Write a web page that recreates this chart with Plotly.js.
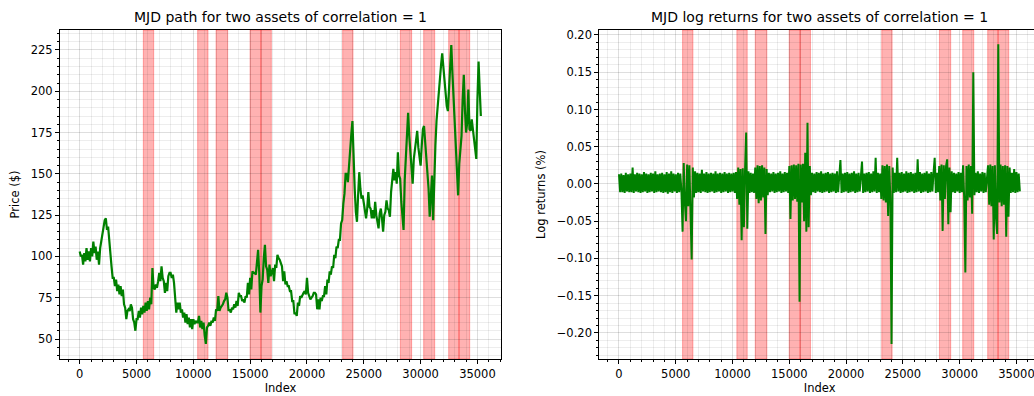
<!DOCTYPE html>
<html>
<head>
<meta charset="utf-8">
<script src="https://cdn.plot.ly/plotly-3.0.1.min.js"></script>
<style>
html,body{margin:0;padding:0;overflow:hidden;background:#fff;}
#chart{width:1050px;height:396px;}
</style>
</head>
<body>
<div id="chart"></div>
<script>
// sampling step of the index (one value read every 100 index steps)
const step = 100;

// Price path
const price = [
103,100,101,95,102,97,105,98,103,97,
105,100,109,102,106,98,103,95,105,109,
113,116,122,123,116,118,109,98,94,87,
87,82,86,79,83,77,82,76,80,71,
69,62,67,68,67,71,69,62,60,55,
62,62,67,63,69,65,70,66,72,67,
73,68,75,71,93,81,80,83,81,85,
90,85,94,87,85,78,84,79,88,90,
90,87,89,84,72,66,72,68,72,66,
68,63,66,60,65,59,63,57,62,56,
62,59,61,60,60,64,57,61,56,60,
52,47,57,58,60,58,61,60,63,61,
68,67,76,67,69,70,71,73,74,78,
75,67,68,66,69,68,71,69,73,70,
78,76,76,73,74,72,76,75,84,77,
87,80,91,90,90,89,99,104,90,66,
82,86,99,107,94,92,84,95,88,90,
93,85,95,93,101,99,98,96,94,85,
91,83,85,82,82,79,79,73,73,65,
66,64,72,70,76,75,77,78,79,77,
87,78,76,74,75,76,78,78,77,68,
74,68,75,73,76,76,82,77,86,84,
91,89,94,93,101,99,106,105,110,110,
120,122,132,138,150,150,145,156,170,174,
182,157,141,127,121,137,151,141,135,137,
133,127,123,129,139,130,129,123,128,123,
133,125,122,117,126,129,123,115,125,127,
134,129,128,124,139,145,153,146,151,144,
163,149,147,133,123,116,146,159,173,187,
173,163,151,144,159,165,173,176,166,159,
155,167,177,179,169,157,153,141,124,141,
149,122,151,167,182,191,204,207,216,223,
215,204,200,191,188,203,218,228,211,197,
183,167,151,137,156,167,173,195,210,189,
175,181,201,177,176,183,177,169,166,159,
195,218,201,185
];

// Log returns
const logReturns = [
0.013,-0.011,0.014,-0.011,0.012,-0.012,0.015,-0.010,0.013,-0.011,
0.014,-0.011,0.022,-0.012,0.013,-0.010,0.015,-0.011,0.014,-0.012,
0.013,-0.011,0.016,-0.010,0.014,-0.012,0.013,-0.011,0.015,-0.010,
0.014,-0.012,0.017,-0.011,0.013,-0.010,0.014,-0.011,0.015,-0.012,
0.013,-0.011,0.016,-0.013,0.014,-0.011,0.017,-0.012,0.014,-0.010,
0.013,-0.012,0.015,-0.011,0.014,-0.010,-0.064,0.028,-0.025,-0.050,
0.026,-0.030,0.025,-0.035,-0.1015,0.022,-0.018,0.017,-0.012,0.015,
-0.011,0.014,-0.012,0.019,-0.010,0.014,-0.011,0.016,-0.012,0.014,
-0.011,0.015,-0.010,0.014,-0.012,0.017,-0.011,0.014,-0.010,0.015,
-0.012,0.014,-0.011,0.016,-0.010,0.014,-0.012,0.015,-0.011,0.014,
-0.010,0.015,-0.012,0.016,-0.020,0.022,-0.028,0.020,-0.0756,0.021,
-0.058,0.018,0.069,-0.060,0.017,-0.012,0.015,-0.011,0.014,-0.012,
0.022,-0.020,0.025,-0.026,0.024,-0.022,0.025,-0.018,0.022,-0.067,
0.020,-0.015,0.015,-0.011,0.014,-0.010,0.016,-0.012,0.014,-0.011,
0.015,-0.010,0.017,-0.012,0.014,-0.011,0.016,-0.010,0.015,-0.012,
0.024,-0.047,0.025,-0.022,0.026,-0.020,0.025,-0.024,0.027,-0.158,
0.026,-0.025,0.027,-0.050,0.042,-0.064,0.082,-0.058,0.024,-0.015,
0.015,-0.011,0.014,-0.012,0.016,-0.010,0.015,-0.011,0.017,-0.012,
0.014,-0.011,0.015,-0.010,0.016,-0.012,0.014,-0.011,0.015,-0.010,
0.014,-0.012,0.017,-0.011,0.015,0.032,-0.012,0.014,-0.011,0.015,
-0.010,0.016,-0.012,0.014,-0.011,0.015,-0.010,0.017,-0.012,0.014,
-0.011,0.015,-0.010,0.016,0.030,-0.012,0.014,-0.011,0.015,-0.010,
0.016,-0.012,0.014,-0.011,0.017,-0.010,0.035,-0.012,0.015,-0.011,
0.014,-0.020,0.025,-0.022,0.024,-0.025,0.026,-0.043,0.024,-0.020,
-0.215,0.022,-0.012,0.015,-0.011,0.035,-0.010,0.015,-0.012,0.016,
-0.011,0.014,-0.010,0.017,-0.012,0.015,-0.011,0.016,-0.010,0.014,
-0.012,0.015,-0.011,0.033,-0.010,0.016,-0.012,0.014,-0.011,0.015,
-0.010,0.017,-0.012,0.014,-0.011,0.016,-0.010,0.015,0.035,-0.012,
0.015,-0.011,0.024,-0.022,0.026,-0.063,0.025,-0.020,0.024,0.033,
-0.054,0.022,-0.038,0.017,-0.011,0.015,-0.012,0.014,-0.010,0.016,
-0.012,0.015,-0.011,0.025,-0.020,-0.119,0.024,-0.022,0.026,-0.018,
0.024,-0.040,0.150,-0.015,0.015,-0.011,0.017,-0.012,0.014,-0.010,
0.016,-0.012,0.015,-0.011,0.014,0.025,-0.028,0.026,-0.030,0.024,
-0.0746,0.025,-0.045,-0.067,0.1875,-0.025,0.026,-0.030,0.024,-0.028,
0.025,-0.071,0.024,-0.044,0.022,-0.012,0.015,-0.011,0.020,-0.012,
0.016,-0.011,0.014,-0.010
];

// Highlighted (jump) regions: start and end index
const spanStarts = [5600, 10380, 12000, 14990, 15950, 23140, 28220, 30270, 32470, 33380];
const spanEnds   = [6510, 11290, 13020, 15950, 16860, 24050, 29210, 31240, 33380, 34320];

const titles = ["MJD path for two assets of correlation = 1", "MJD log returns for two assets of correlation = 1"];
const xLabel = "Index";
const yLabels = ["Price ($)", "Log returns (%)"];

const idxP = price.map((_, i) => i * step);
const idxR = logReturns.map((_, i) => i * step);

const green = "#008000";
const FONT = "DejaVu Sans, sans-serif";

const traces = [
  {x: idxP, y: price, type: "scatter", mode: "lines", line: {color: green, width: 2.2}, xaxis: "x", yaxis: "y", hoverinfo: "skip"},
  {x: idxR, y: logReturns, type: "scatter", mode: "lines", line: {color: green, width: 2}, xaxis: "x2", yaxis: "y2", hoverinfo: "skip"}
];

const shapes = [];
["x", "x2"].forEach((xr, k) => {
  const yr = k === 0 ? "y domain" : "y2 domain";
  spanStarts.forEach((s, i) => {
    shapes.push({type: "rect", xref: xr, yref: yr, x0: s, x1: spanEnds[i], y0: 0, y1: 1,
      fillcolor: "rgba(255,0,0,0.3)", line: {color: "rgba(255,0,0,0.3)", width: 1}, layer: "below"});
  });
});

function xAxis(domain, anchor) {
  return {
    domain: domain, anchor: anchor, range: [-1734, 37074],
    tick0: 0, dtick: 5000, tickformat: "d", ticks: "outside", ticklen: 4, tickwidth: 1, tickcolor: "#000",
    showline: true, linecolor: "#000", linewidth: 1, mirror: true,
    showgrid: true, gridcolor: "rgba(0,0,0,0.13)", gridwidth: 1, zeroline: false,
    tickfont: {family: FONT, size: 11.5, color: "#000"},
    minor: {dtick: 1000, ticks: "outside", ticklen: 2.3, tickcolor: "#000", showgrid: true, gridcolor: "rgba(0,0,0,0.07)", gridwidth: 1},
    title: {text: xLabel, font: {family: FONT, size: 11.5, color: "#000"}, standoff: 3}
  };
}

const layout = {
  width: 1050, height: 396, autosize: false,
  margin: {l: 60, r: 10, t: 30, b: 37, pad: 0},
  paper_bgcolor: "#fff", plot_bgcolor: "#fff",
  showlegend: false,
  font: {family: FONT, size: 11.5, color: "#000"},
  xaxis: xAxis([0, 0.45], "y"),
  xaxis2: xAxis([0.5503, 1], "y2"),
  yaxis: {
    domain: [0, 1], anchor: "x", range: [37.9, 237.1], tick0: 0, dtick: 25,
    ticks: "outside", ticklen: 4, tickwidth: 1, tickcolor: "#000",
    showline: true, linecolor: "#000", linewidth: 1, mirror: true,
    showgrid: true, gridcolor: "rgba(0,0,0,0.13)", zeroline: false,
    tickfont: {family: FONT, size: 11.5, color: "#000"},
    minor: {dtick: 5, ticks: "outside", ticklen: 2.3, tickcolor: "#000", showgrid: true, gridcolor: "rgba(0,0,0,0.07)"},
    title: {text: yLabels[0], font: {family: FONT, size: 11.5, color: "#000"}, standoff: 8}
  },
  yaxis2: {
    domain: [0, 1], anchor: "x2", range: [-0.235, 0.2067], tick0: 0, dtick: 0.05, tickformat: ".2f",
    ticks: "outside", ticklen: 4, tickwidth: 1, tickcolor: "#000",
    showline: true, linecolor: "#000", linewidth: 1, mirror: true,
    showgrid: true, gridcolor: "rgba(0,0,0,0.13)", zeroline: false,
    tickfont: {family: FONT, size: 11.5, color: "#000"},
    minor: {dtick: 0.01, ticks: "outside", ticklen: 2.3, tickcolor: "#000", showgrid: true, gridcolor: "rgba(0,0,0,0.07)"},
    title: {text: yLabels[1], font: {family: FONT, size: 11.5, color: "#000"}, standoff: 8}
  },
  shapes: shapes,
  annotations: [
    {text: titles[0], xref: "x domain", yref: "y domain", x: 0.5, y: 1, xanchor: "center", yanchor: "bottom", yshift: 3, showarrow: false, font: {family: FONT, size: 14, color: "#000"}},
    {text: titles[1], xref: "x2 domain", yref: "y2 domain", x: 0.5, y: 1, xanchor: "center", yanchor: "bottom", yshift: 3, showarrow: false, font: {family: FONT, size: 14, color: "#000"}}
  ]
};

Plotly.newPlot("chart", traces, layout, {displayModeBar: false, staticPlot: true});
</script>
</body>
</html>
